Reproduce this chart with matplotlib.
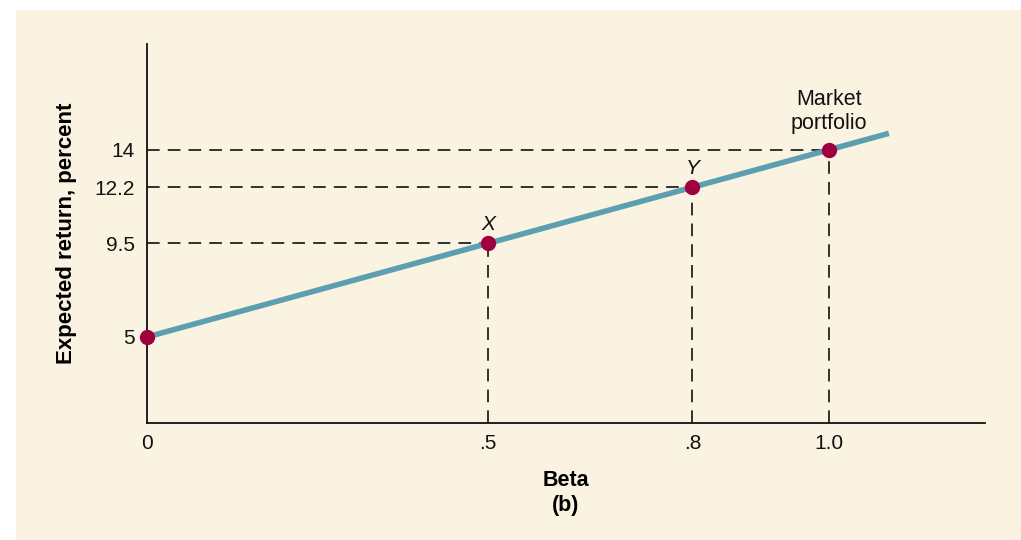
import matplotlib
matplotlib.use('Agg')
import matplotlib.pyplot as plt
from matplotlib.patches import Rectangle

plt.rcParams['font.family'] = ['Liberation Sans', 'DejaVu Sans']

# Points on the security market line
betas = [0, 0.5, 0.8, 1.0]
returns = [5, 9.5, 12.2, 14]
point_labels = ["", "X", "Y", "Market\nportfolio"]
# End points of the drawn line
line_beta = [0, 1.088]
line_return = [5, 14.8]
# Tick labels
xticks = [0, 0.5, 0.8, 1.0]
xticklabels = ["0", ".5", ".8", "1.0"]
yticks = [5, 9.5, 12.2, 14]
yticklabels = ["5", "9.5", "12.2", "14"]

cream = "#faf3e1"
line_color = "#5b9fb1"
dot_color = "#a1003f"

fig = plt.figure(figsize=(10.21, 5.40), dpi=100)
fig.patch.set_facecolor("white")
fig.patches.append(Rectangle((16/1021, 0), 1, 1 - 10/540, transform=fig.transFigure,
                             facecolor=cream, edgecolor="none", zorder=-10))

ax = fig.add_axes([147/1021, 1 - 423/540, (985 - 147)/1021, (423 - 44)/540])
ax.set_facecolor("none")
ax.set_xlim(0, 1.229)
ax.set_ylim(0.86, 19.1)

for s in ["top", "right"]:
    ax.spines[s].set_visible(False)
for s in ["left", "bottom"]:
    ax.spines[s].set_linewidth(1.3)
    ax.spines[s].set_color("#111111")

# dashed guides
for b, r in zip(betas[1:], returns[1:]):
    ax.plot([0, b], [r, r], color="#222222", lw=1.3, dashes=(7, 4.5), zorder=1)
    ax.plot([b, b], [0.86, r], color="#222222", lw=1.3, dashes=(7, 4.5), zorder=1)

ax.plot(line_beta, line_return, color=line_color, lw=4, solid_capstyle="butt", zorder=2)
ax.plot(betas, returns, "o", color=dot_color, markersize=10, zorder=3, clip_on=False)

for b, r, lab in zip(betas, returns, point_labels):
    if lab == "X" or lab == "Y":
        ax.text(b, r + 0.45, lab, ha="center", va="bottom", fontsize=15, style="italic",
                color="#111111")
    elif lab:
        ax.text(b, r + 0.75, lab, ha="center", va="bottom", fontsize=15.5,
                color="#111111", linespacing=1.2)

ax.set_xticks(xticks)
ax.set_xticklabels(xticklabels, fontsize=15)
ax.set_yticks(yticks)
ax.set_yticklabels(yticklabels, fontsize=15)
ax.tick_params(axis="x", length=0, pad=8, colors="#111111")
ax.tick_params(axis="y", length=0, pad=9, colors="#111111")

ax.set_ylabel("Expected return, percent", fontsize=16, fontweight="bold", labelpad=12)
ax.set_xlabel("Beta\n(b)", fontsize=15.5, fontweight="bold", labelpad=12, linespacing=1.27)

plt.savefig("out.png", dpi=100)
